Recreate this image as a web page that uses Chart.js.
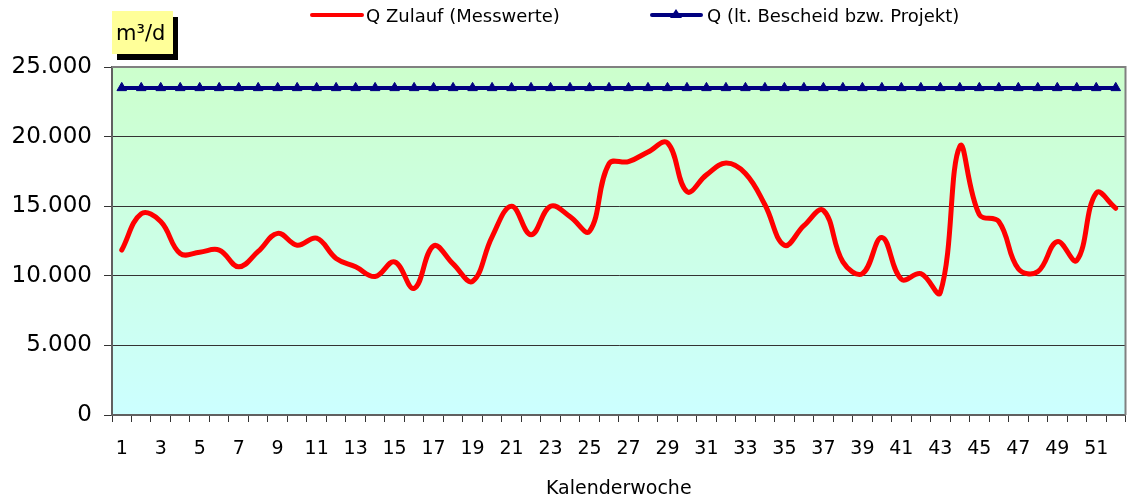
<!DOCTYPE html>
<html>
<head>
<meta charset="utf-8">
<script src="https://cdn.jsdelivr.net/npm/chart.js@4/dist/chart.umd.min.js"></script>
<style>
html,body{margin:0;padding:0;background:#fff;}
#c{display:block;}
</style>
</head>
<body>
<canvas id="c" width="1132" height="500"></canvas>
<script>
const weeks = Array.from({length:52},(_,i)=>String(i+1));
const qZulauf = [11850,14450,13900,11600,11700,11850,10650,11750,13050,12200,
  12700,11250,10650,9950,11000,9100,12150,10850,9600,12800,
  15000,12950,15000,14250,13200,18050,18200,18900,19550,16050,
  17250,18100,17350,15100,12200,13600,14700,11000,10150,12750,
  9750,10150,8800,19300,14400,13900,10500,10300,12450,11100,
  15950,14850];
const qBescheid = Array(52).fill(23500);
const yTicks = [0,5000,10000,15000,20000,25000];
const seriesNames = ['Q Zulauf (Messwerte)','Q (lt. Bescheid bzw. Projekt)'];
const unitLabel = 'm³/d';
const xTitle = 'Kalenderwoche';

const FONT = "'DejaVu Sans', sans-serif";

const bgPlugin = {
  id:'bg',
  beforeDraw(chart){
    const {ctx, chartArea:a} = chart;
    ctx.save();
    ctx.fillStyle='#fff';
    ctx.fillRect(0,0,chart.width,chart.height);
    const g = ctx.createLinearGradient(0,a.top,0,a.bottom);
    g.addColorStop(0,'#CCFFCC');
    g.addColorStop(1,'#CCFFFF');
    ctx.fillStyle=g;
    ctx.fillRect(a.left,a.top,a.right-a.left,a.bottom-a.top);
    ctx.restore();
  },
  beforeDatasetsDraw(chart){
    const {ctx, chartArea:a} = chart;
    ctx.save();
    ctx.strokeStyle='#808080';
    ctx.lineWidth=2;
    ctx.beginPath();
    ctx.moveTo(a.left,a.top);ctx.lineTo(a.right,a.top);ctx.lineTo(a.right,a.bottom);
    ctx.stroke();
    ctx.restore();
  },
  afterDraw(chart){
    const ctx = chart.ctx;
    ctx.save();
    // unit box
    ctx.fillStyle='#000';
    ctx.fillRect(117,17,61,43);
    ctx.fillStyle='#FFFF99';
    ctx.fillRect(112,11,61,43);
    ctx.fillStyle='#000';
    ctx.font='21px '+FONT;
    ctx.textBaseline='alphabetic';
    ctx.textAlign='left';
    ctx.fillText(unitLabel,116,40);
    // legend
    ctx.font='18px '+FONT;
    ctx.textBaseline='middle';
    ctx.lineCap='round';
    ctx.strokeStyle='#FF0000';ctx.lineWidth=4;
    ctx.beginPath();ctx.moveTo(312,15);ctx.lineTo(362,15);ctx.stroke();
    ctx.fillStyle='#000';
    ctx.fillText(seriesNames[0],366,17);
    ctx.strokeStyle='#000080';ctx.lineWidth=4;
    ctx.beginPath();ctx.moveTo(652,15);ctx.lineTo(701,15);ctx.stroke();
    ctx.fillStyle='#000080';
    ctx.beginPath();ctx.moveTo(676,9);ctx.lineTo(682,18);ctx.lineTo(670,18);ctx.closePath();ctx.fill();
    ctx.fillStyle='#000';
    ctx.fillText(seriesNames[1],707,17);
    ctx.restore();
  }
};

new Chart(document.getElementById('c'),{
  type:'line',
  data:{
    labels:weeks,
    datasets:[
      {label:seriesNames[1],data:qBescheid,borderColor:'#000080',backgroundColor:'#000080',
       borderWidth:4,tension:0,pointStyle:'triangle',pointRadius:5.5,pointBorderWidth:1,order:2},
      {label:seriesNames[0],data:qZulauf,borderColor:'#FF0000',borderWidth:5,tension:0.4,
       pointRadius:0,borderCapStyle:'round',borderJoinStyle:'round',order:1}
    ]
  },
  options:{
    responsive:false,animation:false,devicePixelRatio:1,
    layout:{padding:{top:67,right:1,left:0,bottom:0}},
    plugins:{legend:{display:false},tooltip:{enabled:false}},
    scales:{
      x:{
        offset:true,
        grid:{offset:true,drawOnChartArea:false,drawTicks:true,tickLength:7,color:'#333'},
        border:{color:'#606060',width:2},
        ticks:{autoSkip:false,maxRotation:0,color:'#000',font:{family:FONT,size:19},padding:16,
          callback:(v,i)=> i%2===0 ? weeks[i] : ''},
        title:{display:true,text:xTitle,color:'#000',font:{family:FONT,size:19},padding:{top:8,bottom:0}},
        afterFit:s=>{s.height=85;}
      },
      y:{
        min:0,max:25000,
        afterBuildTicks:s=>{s.ticks=yTicks.map(v=>({value:v}));},
        ticks:{color:'#000',font:{family:FONT,size:23},padding:12,
          callback:v=> v===0 ? '0' : (v/1000)+'.000'},
        grid:{color:'#333',tickLength:8,lineWidth:1},
        border:{color:'#606060',width:2},
        afterFit:s=>{s.width=112;}
      }
    }
  },
  plugins:[bgPlugin]
});
</script>
</body>
</html>
